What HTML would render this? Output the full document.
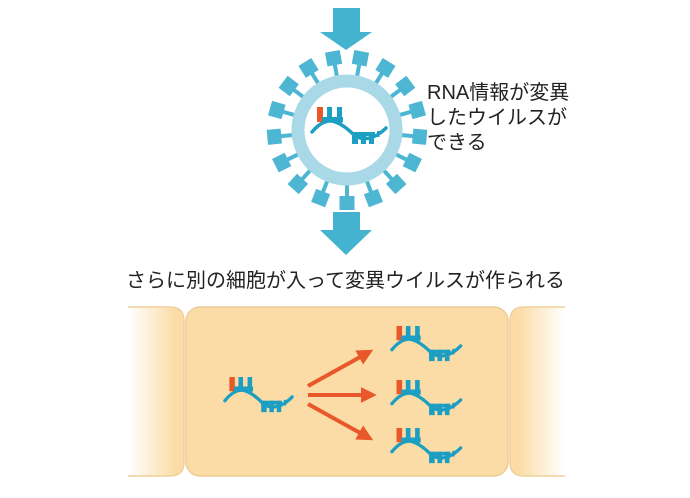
<!DOCTYPE html>
<html><head><meta charset="utf-8"><style>
html,body{margin:0;padding:0;background:#fff;}
body{width:690px;height:498px;position:relative;overflow:hidden;font-family:"Liberation Sans","Noto Sans CJK JP",sans-serif;color:#222;}
.t{position:absolute;font-size:20px;white-space:nowrap;}
</style></head><body>
<svg width="690" height="498" style="position:absolute;left:0;top:0">
<defs>
<g id="rna">
<path d="M2 25 Q12 13 22 14 Q32 16 44 28 Q53 34 63 30 Q70 27 76 21" fill="none" stroke="#1c9fc2" stroke-width="3.5" stroke-linecap="round"/>
<rect x="7" y="0" width="6" height="15" fill="#e8582a"/>
<rect x="12" y="10" width="21" height="5" fill="#1c9fc2"/>
<rect x="17" y="0" width="5" height="15" fill="#1c9fc2"/>
<rect x="27" y="0" width="5" height="17" fill="#1c9fc2"/>
<rect x="42" y="25" width="23" height="4" fill="#1c9fc2"/>
<rect x="42" y="25" width="6" height="12" fill="#1c9fc2"/>
<rect x="51" y="25" width="5" height="12" fill="#1c9fc2"/>
<rect x="59" y="25" width="5" height="12" fill="#1c9fc2"/>
<rect x="67" y="24" width="2.5" height="6" fill="#1c9fc2"/>
</g>
<linearGradient id="gl" x1="0" x2="1"><stop offset="0" stop-color="#fbdca6" stop-opacity="0"/><stop offset="0.85" stop-color="#fbdca6"/></linearGradient>
<linearGradient id="gr" x1="1" x2="0"><stop offset="0" stop-color="#fbdca6" stop-opacity="0"/><stop offset="0.85" stop-color="#fbdca6"/></linearGradient>
<marker id="ah" viewBox="0 0 10 10" refX="2" refY="5" markerWidth="4" markerHeight="4" orient="auto"><path d="M0 0 L10 5 L0 10 Z" fill="#e8582a"/></marker>
</defs>
<rect x="333" y="8" width="27" height="25" fill="#44b3d0"/>
<path d="M320 32 L372 32 L346 50 Z" fill="#44b3d0"/>
<rect x="333" y="212" width="27" height="19" fill="#44b3d0"/>
<path d="M320 230 L372 230 L346 255 Z" fill="#44b3d0"/>
<g transform="translate(347,130)">
<g id="spikes" fill="#4cb6d3" stroke="#4cb6d3"></g>
<circle r="49" fill="none" stroke="#a9d9e7" stroke-width="13"/>
<circle r="42" fill="#fff"/>
</g>
<use href="#rna" x="310" y="107"/>
<!-- cells -->
<path d="M128 307 L170 307 Q184 307 184 321 L184 462 Q184 476 170 476 L128 476 Z" fill="url(#gl)"/>
<path d="M128 307 L170 307 Q184 307 184 321 L184 462 Q184 476 170 476 L128 476" fill="none" stroke="#efd09c" stroke-width="1.5"/>
<path d="M565 307 L524 307 Q510 307 510 321 L510 462 Q510 476 524 476 L565 476 Z" fill="url(#gr)"/>
<path d="M565 307 L524 307 Q510 307 510 321 L510 462 Q510 476 524 476 L565 476" fill="none" stroke="#efd09c" stroke-width="1.5"/>
<rect x="186" y="307" width="322" height="169" rx="14" fill="#fbdca6" stroke="#edcc96" stroke-width="1.5"/>
<use href="#rna" transform="translate(223,377) scale(0.91,0.95)"/>
<use href="#rna" transform="translate(390,326) scale(0.93,0.95)"/>
<use href="#rna" transform="translate(390,380) scale(0.93,0.95)"/>
<use href="#rna" transform="translate(390,428) scale(0.93,0.95)"/>
<g stroke="#e8582a" stroke-width="4" marker-end="url(#ah)">
<line x1="308" y1="386" x2="362" y2="356"/>
<line x1="308" y1="395" x2="364" y2="395"/>
<line x1="308" y1="404" x2="362" y2="434"/>
</g>
</svg>
<div class="t" style="left:427px;top:81px;line-height:25px">RNA情報が変異<br>したウイルスが<br>できる</div>
<div class="t" style="left:126px;top:264px;">さらに別の細胞が入って変異ウイルスが作られる</div>
<script>
var g=document.getElementById('spikes'),s='';
for(var k=0;k<17;k++){var a=90+k*360/17;
s+='<g transform="rotate('+(a-90)+')"><line x1="0" y1="45" x2="0" y2="70" stroke-width="4"/><rect x="-7.5" y="66" width="15" height="14" stroke="none"/></g>';}
g.innerHTML=s;
</script>
</body></html>
